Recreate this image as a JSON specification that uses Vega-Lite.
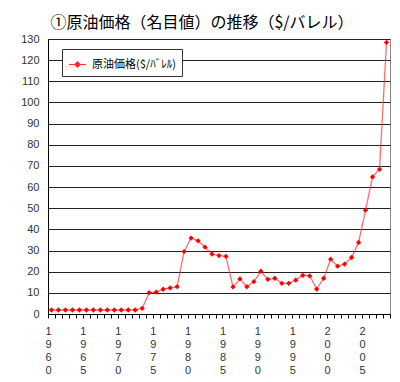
{
  "$schema": "https://vega.github.io/schema/vega-lite/v6.json",
  "autosize": "none",
  "padding": {"left": 48, "top": 39, "right": 10, "bottom": 68},
  "width": 342,
  "height": 275,
  "background": "white",
  "title": {
    "text": "①原油価格（名目値）の推移（$/バレル）",
    "font": "Noto Sans CJK JP",
    "fontSize": 16,
    "fontWeight": "normal",
    "color": "#000",
    "anchor": "middle",
    "dx": -17,
    "offset": 2
  },
  "data": {
    "values": [
      {"year": 1960, "price": 1.9, "series": "原油価格($/ﾊﾞﾚﾙ)"},
      {"year": 1961, "price": 1.9, "series": "原油価格($/ﾊﾞﾚﾙ)"},
      {"year": 1962, "price": 1.9, "series": "原油価格($/ﾊﾞﾚﾙ)"},
      {"year": 1963, "price": 1.9, "series": "原油価格($/ﾊﾞﾚﾙ)"},
      {"year": 1964, "price": 1.9, "series": "原油価格($/ﾊﾞﾚﾙ)"},
      {"year": 1965, "price": 1.9, "series": "原油価格($/ﾊﾞﾚﾙ)"},
      {"year": 1966, "price": 1.9, "series": "原油価格($/ﾊﾞﾚﾙ)"},
      {"year": 1967, "price": 1.9, "series": "原油価格($/ﾊﾞﾚﾙ)"},
      {"year": 1968, "price": 1.9, "series": "原油価格($/ﾊﾞﾚﾙ)"},
      {"year": 1969, "price": 1.9, "series": "原油価格($/ﾊﾞﾚﾙ)"},
      {"year": 1970, "price": 1.9, "series": "原油価格($/ﾊﾞﾚﾙ)"},
      {"year": 1971, "price": 1.9, "series": "原油価格($/ﾊﾞﾚﾙ)"},
      {"year": 1972, "price": 1.9, "series": "原油価格($/ﾊﾞﾚﾙ)"},
      {"year": 1973, "price": 2.7, "series": "原油価格($/ﾊﾞﾚﾙ)"},
      {"year": 1974, "price": 10.1, "series": "原油価格($/ﾊﾞﾚﾙ)"},
      {"year": 1975, "price": 10.3, "series": "原油価格($/ﾊﾞﾚﾙ)"},
      {"year": 1976, "price": 11.7, "series": "原油価格($/ﾊﾞﾚﾙ)"},
      {"year": 1977, "price": 12.3, "series": "原油価格($/ﾊﾞﾚﾙ)"},
      {"year": 1978, "price": 12.9, "series": "原油価格($/ﾊﾞﾚﾙ)"},
      {"year": 1979, "price": 29.5, "series": "原油価格($/ﾊﾞﾚﾙ)"},
      {"year": 1980, "price": 35.9, "series": "原油価格($/ﾊﾞﾚﾙ)"},
      {"year": 1981, "price": 34.6, "series": "原油価格($/ﾊﾞﾚﾙ)"},
      {"year": 1982, "price": 31.6, "series": "原油価格($/ﾊﾞﾚﾙ)"},
      {"year": 1983, "price": 28.3, "series": "原油価格($/ﾊﾞﾚﾙ)"},
      {"year": 1984, "price": 27.6, "series": "原油価格($/ﾊﾞﾚﾙ)"},
      {"year": 1985, "price": 27.2, "series": "原油価格($/ﾊﾞﾚﾙ)"},
      {"year": 1986, "price": 12.8, "series": "原油価格($/ﾊﾞﾚﾙ)"},
      {"year": 1987, "price": 16.6, "series": "原油価格($/ﾊﾞﾚﾙ)"},
      {"year": 1988, "price": 12.9, "series": "原油価格($/ﾊﾞﾚﾙ)"},
      {"year": 1989, "price": 15.3, "series": "原油価格($/ﾊﾞﾚﾙ)"},
      {"year": 1990, "price": 20.2, "series": "原油価格($/ﾊﾞﾚﾙ)"},
      {"year": 1991, "price": 16.4, "series": "原油価格($/ﾊﾞﾚﾙ)"},
      {"year": 1992, "price": 16.9, "series": "原油価格($/ﾊﾞﾚﾙ)"},
      {"year": 1993, "price": 14.5, "series": "原油価格($/ﾊﾞﾚﾙ)"},
      {"year": 1994, "price": 14.5, "series": "原油価格($/ﾊﾞﾚﾙ)"},
      {"year": 1995, "price": 16.0, "series": "原油価格($/ﾊﾞﾚﾙ)"},
      {"year": 1996, "price": 18.3, "series": "原油価格($/ﾊﾞﾚﾙ)"},
      {"year": 1997, "price": 18.0, "series": "原油価格($/ﾊﾞﾚﾙ)"},
      {"year": 1998, "price": 11.8, "series": "原油価格($/ﾊﾞﾚﾙ)"},
      {"year": 1999, "price": 16.9, "series": "原油価格($/ﾊﾞﾚﾙ)"},
      {"year": 2000, "price": 25.9, "series": "原油価格($/ﾊﾞﾚﾙ)"},
      {"year": 2001, "price": 22.6, "series": "原油価格($/ﾊﾞﾚﾙ)"},
      {"year": 2002, "price": 23.6, "series": "原油価格($/ﾊﾞﾚﾙ)"},
      {"year": 2003, "price": 26.7, "series": "原油価格($/ﾊﾞﾚﾙ)"},
      {"year": 2004, "price": 33.8, "series": "原油価格($/ﾊﾞﾚﾙ)"},
      {"year": 2005, "price": 49.1, "series": "原油価格($/ﾊﾞﾚﾙ)"},
      {"year": 2006, "price": 64.8, "series": "原油価格($/ﾊﾞﾚﾙ)"},
      {"year": 2007, "price": 68.4, "series": "原油価格($/ﾊﾞﾚﾙ)"},
      {"year": 2008, "price": 128.4, "series": "原油価格($/ﾊﾞﾚﾙ)"}
    ]
  },
  "encoding": {
    "x": {
      "field": "year",
      "type": "quantitative",
      "scale": {"domain": [1959.5, 2008.5], "nice": false, "zero": false},
      "axis": {
        "title": null,
        "values": [1959.5, 1960.5, 1961.5, 1962.5, 1963.5, 1964.5, 1965.5, 1966.5, 1967.5, 1968.5, 1969.5, 1970.5, 1971.5, 1972.5, 1973.5, 1974.5, 1975.5, 1976.5, 1977.5, 1978.5, 1979.5, 1980.5, 1981.5, 1982.5, 1983.5, 1984.5, 1985.5, 1986.5, 1987.5, 1988.5, 1989.5, 1990.5, 1991.5, 1992.5, 1993.5, 1994.5, 1995.5, 1996.5, 1997.5, 1998.5, 1999.5, 2000.5, 2001.5, 2002.5, 2003.5, 2004.5, 2005.5, 2006.5, 2007.5, 2008.5],
        "labelExpr": "(datum.value - 1959.5) % 5 == 0 && datum.value < 2008 ? split(toString(datum.value + 0.5), '') : ''",
        "labelOverlap": false,
        "labelFlush": false,
        "labelAngle": 0,
        "labelAlign": "center",
        "labelDx": 2,
        "labelPadding": 7,
        "labelLineHeight": 13,
        "labelFont": "Liberation Sans",
        "labelFontSize": 11,
        "labelColor": "#333",
        "tickSize": 4,
        "tickColor": "#000",
        "domainColor": "#000",
        "grid": false
      }
    },
    "y": {
      "field": "price",
      "type": "quantitative",
      "scale": {"domain": [0, 130], "nice": false},
      "axis": {
        "title": null,
        "values": [0, 10, 20, 30, 40, 50, 60, 70, 80, 90, 100, 110, 120, 130],
        "ticks": false,
        "labelPadding": 9,
        "labelFont": "Liberation Sans",
        "labelFontSize": 11,
        "labelColor": "#333",
        "domainColor": "#000",
        "grid": true,
        "gridColor": "#222",
        "gridWidth": 1
      }
    }
  },
  "layer": [
    {
      "mark": {"type": "line", "strokeWidth": 1.3, "strokeOpacity": 0.7},
      "encoding": {
        "color": {
          "field": "series",
          "type": "nominal",
          "scale": {"range": ["#ff3030"]},
          "legend": {
            "title": null,
            "orient": "none",
            "legendX": 14,
            "legendY": 10,
            "strokeColor": "#333",
            "fillColor": "white",
            "padding": 6,
            "symbolType": "M-1,0H1M-0.3,0L0,-0.3L0.3,0L0,0.3Z",
            "symbolSize": 289,
            "symbolStrokeWidth": 1.2,
            "labelFont": "Noto Sans CJK JP",
            "labelFontSize": 11,
            "labelColor": "#000",
            "labelOffset": 5,
            "encode": {"symbols": {"update": {"fill": {"value": "red"}, "stroke": {"value": "red"}, "opacity": {"value": 1}, "strokeOpacity": {"value": 1}}}}
          }
        }
      }
    },
    {
      "mark": {"type": "point", "shape": "diamond", "size": 28, "filled": true, "color": "red", "opacity": 1}
    }
  ],
  "config": {
    "view": {"stroke": "#888", "strokeWidth": 1}
  }
}
